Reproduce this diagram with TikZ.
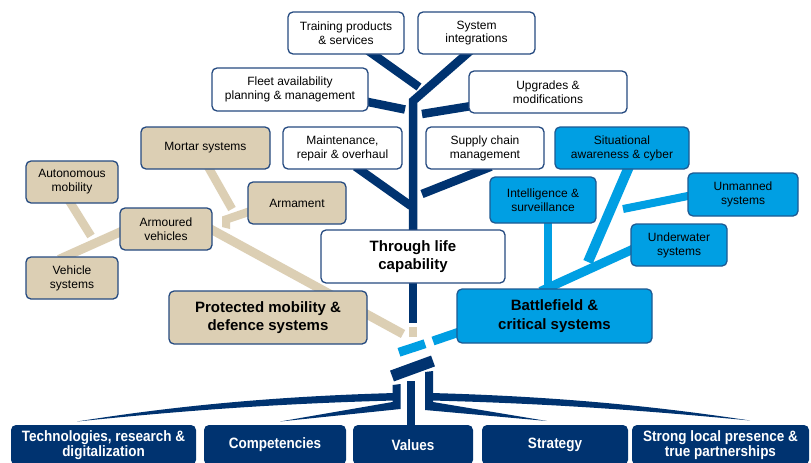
\documentclass[tikz,border=0pt]{standalone}
\usepackage{fontspec}
\setmainfont{Liberation Sans}
\newfontfamily\rootfont[FakeStretch=0.9]{Liberation Sans}
\usetikzlibrary{calc,backgrounds}
\pgfdeclarelayer{bgzero}
\pgfsetlayers{bgzero,background,main}
\definecolor{navy}{HTML}{003370}
\definecolor{lblue}{HTML}{009FE3}
\definecolor{tanc}{HTML}{DCCFB4}
\definecolor{bord}{HTML}{254A80}
\definecolor{bbord}{HTML}{1D5A93}
\begin{document}
\begin{tikzpicture}[x=1pt,y=-1pt,
  boxbase/.style={rounded corners=5pt, line width=1.3pt, align=center, inner sep=0pt, text=black},
  wbox/.style={boxbase, draw=bord, fill=white, font=\fontsize{12}{13.8}\selectfont},
  tbox/.style={boxbase, draw=bord, fill=tanc, font=\fontsize{12}{13.8}\selectfont},
  bbox/.style={boxbase, draw=bbord, fill=lblue, font=\fontsize{12}{13.8}\selectfont},
  bigfont/.style={font=\bfseries\fontsize{15}{18.5}\selectfont},
  rootbox/.style={rounded corners=5pt, fill=navy, draw=none, inner sep=0pt, align=center, text=white, font=\rootfont\bfseries\fontsize{15}{15}\selectfont},
  nline/.style={draw=navy, line width=8.5pt},
  tline/.style={draw=tanc, line width=9pt},
  bline/.style={draw=lblue, line width=9pt},
]
\useasboundingbox (0,0) rectangle (811,463);
\begin{pgfonlayer}{bgzero}
\fill[white] (0,0) rectangle (811,463);
\end{pgfonlayer}

% crown boxes
\node[wbox, minimum width=116pt, minimum height=42pt] (train) at (346,33) {Training products\\\& services};
\node[wbox, minimum width=117pt, minimum height=42pt] (sysint) at (476.5,33) {System\\integrations};
\node[wbox, minimum width=156pt, minimum height=43pt] (fleet) at (290,89.5) {Fleet availability\\planning \& management};
\node[wbox, minimum width=158pt, minimum height=42pt] (upgr) at (548,92) {Upgrades \&\\modifications};
\node[wbox, minimum width=119pt, minimum height=42pt] (maint) at (342.5,148) {Maintenance,\\repair \& overhaul};
\node[wbox, minimum width=118pt, minimum height=42pt] (supply) at (485,148) {Supply chain\\management};
\node[wbox, bigfont, minimum width=184pt, minimum height=53pt] (tlc) at (413,256.5) {Through life\\capability};

% blue boxes
\node[bbox, minimum width=134pt, minimum height=42pt] (sit) at (622,148) {Situational\\awareness \& cyber};
\node[bbox, minimum width=106pt, minimum height=46pt] (intel) at (543,200) {Intelligence \&\\surveillance};
\node[bbox, minimum width=110pt, minimum height=43pt] (unman) at (743,194.5) {Unmanned\\systems};
\node[bbox, minimum width=96pt, minimum height=42pt] (under) at (679,245) {Underwater\\systems};
\node[bbox, bigfont, minimum width=195pt, minimum height=54pt] (battle) at (554.5,316) {Battlefield \&\\critical systems};

% tan boxes
\node[tbox, minimum width=129pt, minimum height=42pt] (mortar) at (205.5,148) {Mortar systems};
\node[tbox, minimum width=92pt, minimum height=42pt] (auton) at (72,182) {Autonomous\\mobility};
\node[tbox, minimum width=98pt, minimum height=42pt] (armam) at (297,203) {Armament};
\node[tbox, minimum width=92pt, minimum height=42pt] (armour) at (166,229) {Armoured\\vehicles};
\node[tbox, minimum width=92pt, minimum height=42pt] (vehic) at (72,278) {Vehicle\\systems};
\node[tbox, bigfont, minimum width=198pt, minimum height=53pt] (protect) at (268,317.5) {Protected mobility \&\\defence systems};

% root boxes
\node[rootbox, minimum width=185pt, minimum height=40pt] (tech) at (103.5,445) {Technologies, research \&\\digitalization};
\node[rootbox, minimum width=142pt, minimum height=40pt] (comp) at (275,445) {Competencies};
\node[rootbox, minimum width=120pt, minimum height=40pt] (values) at (413,445) {Values};
\node[rootbox, minimum width=146pt, minimum height=40pt] (strat) at (555,445) {Strategy};
\node[rootbox, minimum width=177pt, minimum height=40pt] (strong) at (720.5,445) {Strong local presence \&\\true partnerships};

% free ends
\coordinate (trainE) at (419,87);
\coordinate (bend) at (413,101);
\coordinate (fleetE) at (405,109.5);
\coordinate (upgrE) at (422,114);
\coordinate (maintE) at (411,206);
\coordinate (supplyE) at (422,194);
\coordinate (sitE) at (588,262);
\coordinate (unmanE) at (623,209);
\coordinate (trunkE) at (413,323);
\coordinate (tanE) at (403,334);
\coordinate (mortarE) at (232,209);
\coordinate (autonE) at (91,236);
\coordinate (lbE) at (433,341);
\coordinate (lbS) at (425,343.7);
\coordinate (lbT) at (399,352.3);
\coordinate (barL) at (392,376);
\coordinate (barR) at (433,361);

\begin{scope}[on background layer]
% navy crown
\draw[nline] ($(train.south)+(22,-4)$) -- (trainE);
\draw[nline, line join=miter] ($(sysint.south)+(-6,-4)$) -- (bend) -- ($(tlc.north)+(0,3)$);
\draw[nline] ($(fleet.east)+(-3,12)$) -- (fleetE);
\draw[nline] ($(upgr.west)+(3,14)$) -- (upgrE);
\draw[nline] ($(maint.south)+(13,-3)$) -- (maintE);
\draw[nline] ($(supply.south)+(6,-3)$) -- (supplyE);
\draw[nline] ($(tlc.south)+(0,-3)$) -- (trunkE);
% blue branches
\draw[bline, line width=10pt] ($(sit.south)+(7,-3)$) -- (sitE);
\draw[bline, line width=8pt] ($(unman.west)+(3,1)$) -- (unmanE);
\draw[bline] ($(under.west)+(3,4)$) -- ($(battle.north)+(-14,3)$);
\draw[bline, line width=8pt] ($(intel.south)+(5,-3)$) -- ($(battle.north)+(-6.5,3)$);
\draw[bline] ($(battle.west)+(3,16)$) -- (lbE);
\draw[bline] (lbS) -- (lbT);
% tan branches
\draw[tline] ($(armour.east)+(-4,-1)$) -- (tanE);
\draw[tline, line width=8.5pt] ($(mortar.south)+(2.5,-3)$) -- (mortarE);
\draw[tline, line width=8.5pt] ($(auton.south)+(-3,-3)$) -- (autonE);
\draw[tline] ($(vehic.north)+(-13,3)$) -- ($(armour.west)+(3,2)$);
\fill[tanc] (251,206.5) -- (222,216.5) -- (222,227) -- (230,229) -- (230,222.5) -- (251,215.5) -- cycle;
\fill[tanc] (408.5,327) rectangle (417,337);
% navy lower trunk and roots
\draw[navy, line width=11.5pt] (barL) -- (barR);
\fill[navy] (392.5,385) -- (400.5,384) -- (400.5,409) -- (280,421.5) -- (392.5,402) -- cycle;
\fill[navy] (395,393) .. controls (250,397) and (150,410) .. (77,421.5) .. controls (160,413) and (260,404) .. (395,400.5) -- cycle;
\fill[navy] (425,372) -- (433,371) -- (433,402) -- (547,421) -- (425,410) -- cycle;
\fill[navy] (431,393) .. controls (580,397) and (680,410) .. (750,420.5) .. controls (670,413) and (570,404) .. (431,400.5) -- cycle;
\fill[navy] (407,381) rectangle (415,426);
\end{scope}
\end{tikzpicture}
\end{document}
